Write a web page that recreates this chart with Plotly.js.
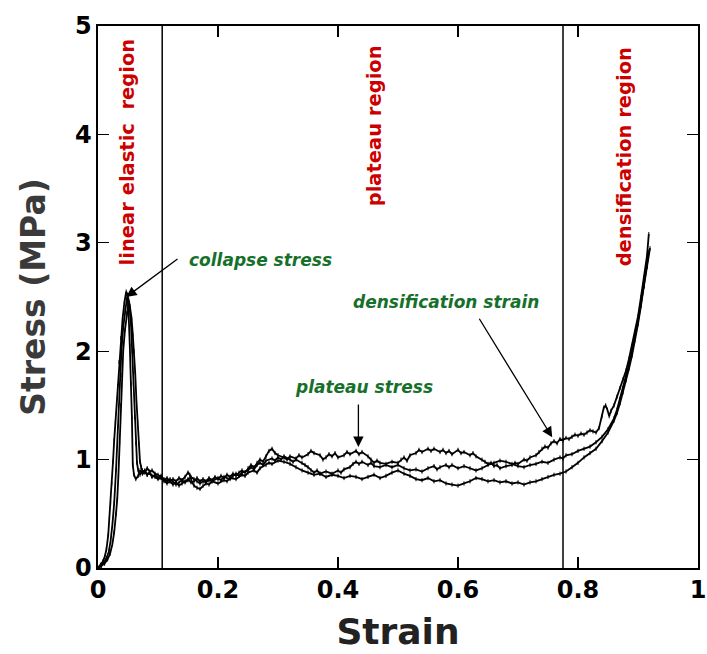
<!DOCTYPE html>
<html><head><meta charset="utf-8">
<script src="https://cdn.plot.ly/plotly-3.0.1.min.js"></script>
<style>html,body{margin:0;padding:0;background:#fff}</style>
</head><body><div id="chart" style="width:707px;height:654px"></div>
<script>
// [strain, stress (MPa)] pairs
const specimen1 = [[0,0],[0.004,0.03],[0.008,0.06],[0.011,0.1],[0.014,0.17],[0.017,0.3],[0.019,0.45],[0.021,0.6],[0.023,0.78],[0.025,0.98],[0.027,1.18],[0.029,1.34],[0.031,1.5],[0.033,1.68],[0.035,1.9],[0.038,2.12],[0.041,2.3],[0.044,2.45],[0.047,2.55],[0.049,2.52],[0.051,2.35],[0.053,2.05],[0.055,1.7],[0.0565,1.39],[0.058,0.95],[0.06,0.86],
[0.063,0.82],[0.067,0.85],[0.07,0.9],[0.074,0.87],[0.078,0.89],[0.082,0.86],[0.086,0.88],[0.09,0.85],[0.095,0.84],[0.1,0.82],[0.105,0.83],[0.11,0.8],[0.115,0.78],[0.12,0.8],[0.125,0.77],[0.13,0.79],[0.135,0.76],[0.14,0.78],[0.145,0.8],[0.15,0.82],[0.155,0.79],[0.16,0.8],[0.165,0.83],[0.17,0.8],[0.175,0.82],[0.18,0.8],[0.185,0.83],[0.19,0.81],[0.195,0.84],[0.2,0.82],[0.205,0.85],[0.21,0.83],[0.215,0.86],[0.22,0.84],[0.225,0.87],[0.23,0.85],[0.235,0.88],[0.24,0.9],[0.245,0.88],[0.25,0.92],[0.255,0.95],[0.26,0.93],[0.265,0.97],[0.27,1.0],[0.275,0.98],[0.28,1.03],[0.285,1.08],[0.29,1.1],[0.295,1.06],[0.3,1.04],[0.31,1.02],[0.315,1.0],[0.32,1.03],[0.33,1.01],[0.335,1.04],[0.34,1.02],[0.35,1.05],[0.355,1.08],[0.36,1.06],[0.37,1.04],[0.375,1.0],[0.38,1.02],[0.385,1.05],[0.39,1.03],[0.395,1.06],[0.4,1.02],[0.41,1.04],[0.415,1.07],[0.42,1.05],[0.43,1.08],[0.435,1.05],[0.44,1.07],[0.45,1.03],[0.455,1.0],[0.46,0.97],[0.465,0.99],[0.47,0.97],[0.48,0.96],[0.49,0.98],[0.5,0.97],[0.505,1.0],[0.51,1.02],[0.515,0.99],[0.52,1.04],[0.53,1.06],[0.535,1.09],[0.54,1.07],[0.55,1.1],[0.555,1.08],[0.56,1.1],[0.57,1.07],[0.575,1.09],[0.58,1.06],[0.585,1.08],[0.59,1.05],[0.6,1.09],[0.605,1.06],[0.61,1.07],[0.62,1.04],[0.625,1.06],[0.63,1.03],[0.64,1.0],[0.645,0.98],[0.65,0.96],[0.655,0.97],[0.66,0.94],[0.665,0.95],[0.67,0.92],[0.68,0.94],[0.69,0.95],[0.695,0.97],[0.7,0.96],[0.71,1.0],[0.715,0.99],[0.72,1.02],[0.73,1.04],[0.735,1.07],[0.74,1.1],[0.745,1.12],[0.75,1.11],[0.755,1.15],[0.76,1.17],[0.765,1.15],[0.77,1.19],[0.775,1.18],[0.78,1.2],[0.785,1.19],[0.79,1.21],[0.795,1.23],[0.8,1.22],[0.805,1.24],[0.81,1.23],[0.815,1.25],[0.82,1.27],[0.825,1.26],[0.83,1.25],[0.835,1.29],[0.84,1.4],[0.843,1.48],[0.846,1.5],[0.849,1.46],[0.852,1.4],[0.855,1.45],[0.86,1.5],[0.865,1.58],[0.87,1.66],[0.875,1.74],[0.88,1.82],[0.885,1.93],[0.89,2.05],[0.895,2.18],[0.9,2.32],[0.905,2.5],[0.91,2.68],[0.915,2.88],[0.918,3.08]];

const specimen2 = [[0,0],[0.005,0.02],[0.01,0.05],[0.014,0.09],[0.018,0.15],[0.021,0.25],[0.024,0.4],[0.027,0.6],[0.03,0.9],[0.033,1.3],[0.036,1.68],[0.039,2.0],[0.042,2.22],[0.045,2.38],[0.048,2.48],[0.05,2.5],[0.052,2.45],[0.055,2.25],[0.057,2.0],[0.059,1.7],[0.061,1.39],[0.063,1.15],[0.065,0.97],[0.067,0.9],[0.07,0.86],[0.074,0.9],[0.078,0.88],[0.082,0.92],[0.086,0.89],[0.09,0.9],[0.095,0.87],[0.1,0.86],[0.105,0.84],[0.11,0.82],[0.115,0.8],[0.12,0.82],[0.125,0.79],[0.13,0.77],[0.135,0.79],[0.14,0.81],[0.145,0.79],[0.15,0.81],[0.155,0.84],[0.16,0.82],[0.165,0.8],[0.17,0.78],[0.175,0.8],[0.18,0.79],[0.185,0.81],[0.19,0.8],[0.2,0.83],[0.205,0.81],[0.21,0.84],[0.22,0.82],[0.225,0.85],[0.23,0.87],[0.235,0.85],[0.24,0.88],[0.25,0.9],[0.255,0.93],[0.26,0.91],[0.265,0.95],[0.27,0.97],[0.275,0.95],[0.28,0.99],[0.29,1.01],[0.295,0.99],[0.3,1.02],[0.305,1.0],[0.31,1.03],[0.32,1.0],[0.325,0.98],[0.33,1.0],[0.34,0.97],[0.345,0.95],[0.35,0.93],[0.355,0.9],[0.36,0.88],[0.365,0.9],[0.37,0.87],[0.38,0.89],[0.39,0.87],[0.4,0.9],[0.405,0.88],[0.41,0.91],[0.42,0.93],[0.425,0.96],[0.43,0.98],[0.435,0.96],[0.44,0.98],[0.45,0.95],[0.455,0.97],[0.46,0.94],[0.47,0.93],[0.48,0.95],[0.49,0.93],[0.5,0.95],[0.51,0.92],[0.52,0.9],[0.53,0.91],[0.54,0.89],[0.55,0.92],[0.56,0.94],[0.565,0.91],[0.57,0.93],[0.58,0.95],[0.585,0.93],[0.59,0.95],[0.6,0.92],[0.61,0.94],[0.62,0.92],[0.63,0.9],[0.64,0.92],[0.65,0.95],[0.66,0.97],[0.67,0.99],[0.68,0.98],[0.69,0.96],[0.7,0.94],[0.71,0.93],[0.72,0.95],[0.73,0.96],[0.74,0.98],[0.75,0.97],[0.76,1.0],[0.77,1.02],[0.775,1.01],[0.78,1.04],[0.79,1.05],[0.8,1.08],[0.81,1.1],[0.82,1.12],[0.83,1.16],[0.84,1.21],[0.85,1.28],[0.86,1.38],[0.865,1.46],[0.87,1.56],[0.875,1.66],[0.88,1.77],[0.885,1.88],[0.89,2.0],[0.895,2.13],[0.9,2.28],[0.905,2.44],[0.91,2.6],[0.915,2.78],[0.92,2.95]];

const specimen3 = [[0,0],[0.006,0.02],[0.011,0.04],[0.016,0.08],[0.02,0.13],[0.024,0.22],[0.027,0.33],[0.03,0.5],[0.032,0.63],[0.034,0.85],[0.036,1.15],[0.038,1.5],[0.04,1.78],[0.042,2.0],[0.045,2.2],[0.048,2.35],[0.051,2.45],[0.053,2.42],[0.056,2.3],[0.058,2.15],[0.06,2.0],[0.062,1.8],[0.064,1.55],[0.066,1.35],[0.068,1.15],[0.07,0.98],[0.072,0.93],[0.075,0.88],[0.078,0.9],[0.082,0.86],[0.086,0.88],[0.09,0.84],[0.095,0.86],[0.1,0.83],[0.105,0.85],[0.11,0.81],[0.115,0.83],[0.12,0.8],[0.125,0.82],[0.13,0.8],[0.135,0.83],[0.14,0.81],[0.145,0.84],[0.15,0.88],[0.153,0.86],[0.156,0.8],[0.16,0.76],[0.165,0.74],[0.17,0.73],[0.175,0.76],[0.18,0.78],[0.185,0.77],[0.19,0.8],[0.2,0.78],[0.21,0.81],[0.215,0.8],[0.22,0.83],[0.23,0.82],[0.24,0.86],[0.245,0.85],[0.25,0.88],[0.26,0.9],[0.265,0.88],[0.27,0.92],[0.28,0.95],[0.285,0.97],[0.29,0.96],[0.3,0.99],[0.31,0.98],[0.32,0.96],[0.33,0.93],[0.34,0.9],[0.35,0.88],[0.36,0.86],[0.37,0.87],[0.38,0.84],[0.39,0.86],[0.4,0.85],[0.41,0.83],[0.42,0.85],[0.43,0.84],[0.44,0.82],[0.45,0.84],[0.46,0.86],[0.47,0.83],[0.48,0.85],[0.49,0.88],[0.5,0.9],[0.51,0.87],[0.52,0.85],[0.53,0.82],[0.54,0.81],[0.55,0.83],[0.56,0.8],[0.57,0.81],[0.58,0.78],[0.59,0.77],[0.6,0.76],[0.61,0.78],[0.62,0.8],[0.63,0.83],[0.64,0.82],[0.65,0.8],[0.66,0.81],[0.67,0.79],[0.68,0.8],[0.69,0.78],[0.7,0.79],[0.71,0.77],[0.72,0.79],[0.73,0.8],[0.74,0.82],[0.75,0.84],[0.76,0.86],[0.77,0.87],[0.78,0.89],[0.79,0.93],[0.8,0.97],[0.81,1.02],[0.82,1.06],[0.83,1.1],[0.84,1.17],[0.85,1.25],[0.86,1.36],[0.865,1.43],[0.87,1.52],[0.875,1.62],[0.88,1.73],[0.885,1.84],[0.89,1.96],[0.895,2.1],[0.9,2.25],[0.905,2.42],[0.91,2.6],[0.915,2.78],[0.918,2.92]];

const xTickVals = [0, 0.2, 0.4, 0.6, 0.8, 1];
const xTickText = ["0", "0.2", "0.4", "0.6", "0.8", "1"];
const yTickVals = [0, 1, 2, 3, 4, 5];
const yTickText = ["0", "1", "2", "3", "4", "5"];

const regionBounds = [0.107, 0.775];
const regionLabels = ["linear elastic\u00a0 region", "plateau region", "densification region"];
const regionLabelX = [0.0494, 0.461, 0.877];
const regionLabelY = [3.84, 4.08, 3.79];

const noteLabels = ["collapse stress", "plateau stress", "densification strain"];
const noteX = [0.271, 0.444, 0.58];
const noteY = [2.84, 1.673, 2.457];
const arrowTipX = [0.047, 0.434, 0.757];
const arrowTipY = [2.50, 1.117, 1.206];
const arrowTailX = [0.135, 0.434, 0.634];
const arrowTailY = [2.86, 1.522, 2.313];

const FONT = "DejaVu Sans";
const specimens = [specimen1, specimen2, specimen3];
const traces = specimens.map(s => ({
  x: s.map(p => p[0]), y: s.map(p => p[1]),
  type: "scatter", mode: "lines+markers",
  line: {color: "black", width: 1.8},
  marker: {symbol: "line-ns", size: 3, color: "black", line: {width: 1, color: "black"}},
  hoverinfo: "skip", showlegend: false
}));

const shapes = regionBounds.map(b => ({
  type: "line", xref: "x", yref: "paper", x0: b, x1: b, y0: 0, y1: 1,
  line: {color: "black", width: 1.5}
}));

const annotations = [];
regionLabels.forEach((t, i) => annotations.push({
  text: t, x: regionLabelX[i], y: regionLabelY[i], xref: "x", yref: "y",
  showarrow: false, textangle: -90, xanchor: "center", yanchor: "middle",
  font: {family: FONT, size: 19.5, weight: "bold", color: "#cc0000"}
}));
noteLabels.forEach((t, i) => annotations.push({
  text: t, x: noteX[i], y: noteY[i], xref: "x", yref: "y",
  showarrow: false, xanchor: "center", yanchor: "middle",
  font: {family: FONT, size: 17, weight: "bold", style: "italic", color: "#16702a"}
}));
arrowTipX.forEach((tx, i) => annotations.push({
  text: "", x: tx, y: arrowTipY[i], xref: "x", yref: "y",
  ax: arrowTailX[i], ay: arrowTailY[i], axref: "x", ayref: "y",
  showarrow: true, arrowhead: 2, arrowsize: 1.6, arrowwidth: 1.3, arrowcolor: "black"
}));

const axisCommon = {
  ticks: "inside", ticklen: 11, tickwidth: 1.3, tickcolor: "black",
  showline: true, linecolor: "black", linewidth: 1.6, mirror: "ticks",
  showgrid: false, zeroline: false, tickmode: "array", ticklabeloverflow: "allow",
  tickfont: {family: FONT, size: 24, weight: "bold", color: "black"}
};

const layout = {
  width: 707, height: 654,
  margin: {l: 98, r: 9, t: 26, b: 86},
  paper_bgcolor: "white", plot_bgcolor: "white",
  xaxis: Object.assign({}, axisCommon, {
    range: [0, 1], tickvals: xTickVals, ticktext: xTickText,
    title: {text: "Strain", standoff: 15, font: {family: FONT, size: 36, weight: "bold", color: "#222"}}
  }),
  yaxis: Object.assign({}, axisCommon, {
    range: [0, 5], tickvals: yTickVals, ticktext: yTickText,
    title: {text: "Stress (MPa)", standoff: 19, font: {family: FONT, size: 33, weight: "bold", color: "#3a3a3a"}}
  }),
  shapes: shapes, annotations: annotations
};

Plotly.newPlot("chart", traces, layout, {staticPlot: true, displayModeBar: false});
</script>
</body></html>
